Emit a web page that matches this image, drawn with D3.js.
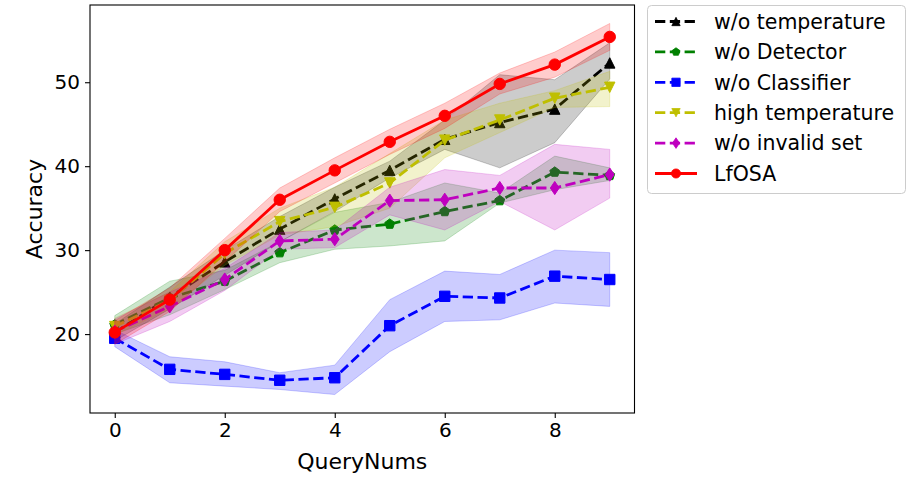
<!DOCTYPE html>
<html>
<head>
<meta charset="utf-8">
<script src="https://cdn.jsdelivr.net/npm/d3@7"></script>
<style>
  body { margin: 0; background: #fff; }
  svg { font-family: "DejaVu Sans", sans-serif; }
</style>
</head>
<body>
<script>
// data
var queryNums = [0, 1, 2, 3, 4, 5, 6, 7, 8, 9];
var xTicks = [0, 2, 4, 6, 8];
var yTicks = [20, 30, 40, 50];

var seriesNames = ["w/o temperature", "w/o Detector", "w/o Classifier", "high temperature", "w/o invalid set", "LfOSA"];

var noTempMean = [20.2, 24.4, 28.6, 32.5, 36.1, 39.5, 43.2, 45.2, 46.8, 52.3];
var noTempLo   = [19.2, 23.0, 27.0, 31.0, 34.6, 38.6, 42.0, 39.8, 42.8, 50.4];
var noTempHi   = [21.2, 25.6, 30.0, 34.0, 37.5, 40.6, 45.5, 50.9, 50.3, 54.7];

var noDetMean = [21.1, 24.3, 26.3, 29.7, 32.4, 33.1, 34.6, 35.9, 39.3, 38.9];
var noDetLo   = [20.0, 22.3, 25.3, 28.5, 30.1, 30.5, 31.1, 35.6, 37.2, 38.3];
var noDetHi   = [22.2, 26.3, 27.6, 31.0, 34.5, 35.7, 38.0, 36.8, 41.2, 39.8];

var noClsMean = [19.5, 15.8, 15.2, 14.5, 14.8, 21.0, 24.5, 24.3, 26.9, 26.5];
var noClsLo   = [18.5, 14.2, 13.8, 13.4, 12.8, 17.9, 21.5, 21.7, 23.7, 23.3];
var noClsHi   = [20.5, 17.3, 16.7, 15.4, 16.3, 24.1, 27.5, 27.1, 30.0, 29.7];

var highTempMean = [20.9, 24.0, 29.6, 33.4, 35.1, 38.0, 43.1, 45.5, 48.1, 49.4];
var highTempLo   = [19.9, 23.0, 28.2, 31.8, 32.8, 35.0, 41.0, 44.0, 47.0, 47.1];
var highTempHi   = [21.9, 25.0, 31.0, 35.0, 37.5, 41.5, 45.5, 47.5, 49.0, 51.3];

var noInvMean = [20.3, 23.3, 26.5, 31.1, 31.3, 35.9, 36.0, 37.4, 37.4, 39.0];
var noInvLo   = [18.8, 21.5, 25.2, 30.1, 30.3, 34.2, 32.4, 35.8, 32.4, 36.2];
var noInvHi   = [21.8, 25.0, 27.8, 32.1, 32.4, 37.5, 39.6, 38.9, 42.6, 42.0];

var lfosaMean = [20.2, 24.1, 30.0, 36.0, 39.5, 42.9, 46.0, 49.8, 52.1, 55.4];
var lfosaLo   = [18.8, 22.7, 28.6, 34.6, 38.0, 41.4, 44.5, 48.6, 50.6, 53.8];
var lfosaHi   = [21.6, 25.5, 31.4, 37.4, 41.0, 44.4, 47.5, 51.1, 53.6, 57.0];

var seriesColors = ["#000000", "#008000", "#0000ff", "#bfbf00", "#bf00bf", "#ff0000"];
var seriesMarkers = ["tri-up", "pentagon", "square", "tri-down", "thin-diamond", "circle"];
var seriesDashed = [true, true, true, true, true, false];

var series = [
  { mean: noTempMean, lo: noTempLo, hi: noTempHi },
  { mean: noDetMean, lo: noDetLo, hi: noDetHi },
  { mean: noClsMean, lo: noClsLo, hi: noClsHi },
  { mean: highTempMean, lo: highTempLo, hi: highTempHi },
  { mean: noInvMean, lo: noInvLo, hi: noInvHi },
  { mean: lfosaMean, lo: lfosaLo, hi: lfosaHi }
].map(function (s, i) {
  s.name = seriesNames[i];
  s.color = seriesColors[i];
  s.marker = seriesMarkers[i];
  s.dashed = seriesDashed[i];
  return s;
});

// layout (plot box edges in px)
var W = 911, H = 480;
var boxL = 90, boxR = 634.5, boxT = 5, boxB = 413;

var svg = d3.select("body").append("svg")
  .attr("width", W)
  .attr("height", H);

var x = d3.scaleLinear().domain([-0.45, 9.45]).range([boxL, boxR]);
var y = d3.scaleLinear().domain([10.6, 59.2]).range([boxB, boxT]);

// marker shapes, roughly matplotlib's
function markerPath(type) {
  var r = 5.2;
  switch (type) {
    case "tri-up":
      return "M0," + (-r) + "L" + r + "," + r + "L" + (-r) + "," + r + "Z";
    case "tri-down":
      return "M0," + r + "L" + r + "," + (-r) + "L" + (-r) + "," + (-r) + "Z";
    case "square":
      return "M" + (-r) + "," + (-r) + "h" + (2 * r) + "v" + (2 * r) + "h" + (-2 * r) + "Z";
    case "pentagon":
      var pts = d3.range(5).map(function (k) {
        var a = -Math.PI / 2 + k * 2 * Math.PI / 5;
        return [r * Math.cos(a), r * Math.sin(a)];
      });
      return "M" + pts.join("L") + "Z";
    case "thin-diamond":
      var h = 6.6, w = 4.4;
      return "M0," + (-h) + "L" + w + ",0L0," + h + "L" + (-w) + ",0Z";
    default:
      return d3.symbol().type(d3.symbolCircle).size(Math.PI * 5.7 * 5.7)();
  }
}

var plot = svg.append("g");

var area = d3.area()
  .x(function (d, i) { return x(queryNums[i]); })
  .y0(function (d) { return y(d[0]); })
  .y1(function (d) { return y(d[1]); });

var line = d3.line()
  .x(function (d, i) { return x(queryNums[i]); })
  .y(function (d) { return y(d); });

series.forEach(function (s) {
  var g = plot.append("g");
  g.append("path")
    .datum(s.lo.map(function (v, i) { return [v, s.hi[i]]; }))
    .attr("d", area)
    .attr("fill", s.color)
    .attr("fill-opacity", 0.2)
    .attr("stroke", s.color)
    .attr("stroke-opacity", 0.2)
    .attr("stroke-width", 1);

  g.append("path")
    .datum(s.mean)
    .attr("d", line)
    .attr("fill", "none")
    .attr("stroke", s.color)
    .attr("stroke-width", 2.8)
    .attr("stroke-dasharray", s.dashed ? "10.3,4.5" : null);

  g.selectAll("path.mk")
    .data(s.mean)
    .enter().append("path")
    .attr("class", "mk")
    .attr("d", markerPath(s.marker))
    .attr("transform", function (d, i) { return "translate(" + x(queryNums[i]) + "," + y(d) + ")"; })
    .attr("fill", s.color)
    .attr("stroke", s.color)
    .attr("stroke-width", 1);
});

// axes
var xAxis = svg.append("g")
  .attr("transform", "translate(0," + boxB + ")")
  .call(d3.axisBottom(x).tickValues(xTicks).tickSize(5).tickPadding(5).tickFormat(d3.format("d")));
var yAxis = svg.append("g")
  .attr("transform", "translate(" + boxL + ",0)")
  .call(d3.axisLeft(y).tickValues(yTicks).tickSize(5).tickPadding(5).tickFormat(d3.format("d")));

[xAxis, yAxis].forEach(function (a) {
  a.select(".domain").remove();
  a.attr("font-size", null).attr("font-family", null);
  a.selectAll(".tick line").attr("stroke", "#000").attr("stroke-width", 1.1);
  a.selectAll(".tick text")
    .attr("fill", "#000")
    .style("font-size", "20px");
});

svg.append("rect")
  .attr("x", boxL).attr("y", boxT)
  .attr("width", boxR - boxL).attr("height", boxB - boxT)
  .attr("fill", "none")
  .attr("stroke", "#000")
  .attr("stroke-width", 1.1);

svg.append("text")
  .attr("x", (boxL + boxR) / 2)
  .attr("y", 469)
  .attr("text-anchor", "middle")
  .style("font-size", "22px")
  .text("QueryNums");

svg.append("text")
  .attr("transform", "translate(42," + ((boxT + boxB) / 2) + ") rotate(-90)")
  .attr("text-anchor", "middle")
  .style("font-size", "22px")
  .text("Accuracy");

// legend
var legend = svg.append("g");
legend.append("rect")
  .attr("x", 647.5).attr("y", 5.5)
  .attr("width", 258).attr("height", 188)
  .attr("rx", 4)
  .attr("fill", "#fff")
  .attr("fill-opacity", 0.8)
  .attr("stroke", "#cccccc")
  .attr("stroke-width", 1);

var rowY = d3.scaleLinear().domain([0, 5]).range([21.5, 173.5]);

var item = legend.selectAll("g.item")
  .data(series)
  .enter().append("g")
  .attr("class", "item")
  .attr("transform", function (d, i) { return "translate(0," + rowY(i) + ")"; });

item.append("line")
  .attr("x1", 655).attr("x2", 697)
  .attr("stroke", function (d) { return d.color; })
  .attr("stroke-width", 2.8)
  .attr("stroke-dasharray", function (d) { return d.dashed ? "10.3,4.5" : null; });

item.append("path")
  .attr("d", function (d) { return markerPath(d.marker); })
  .attr("transform", "translate(676,0) scale(0.8)")
  .attr("fill", function (d) { return d.color; })
  .attr("stroke", function (d) { return d.color; });

item.append("text")
  .attr("x", 714)
  .attr("dy", "0.36em")
  .style("font-size", "20.5px")
  .text(function (d) { return d.name; });
</script>
</body>
</html>
